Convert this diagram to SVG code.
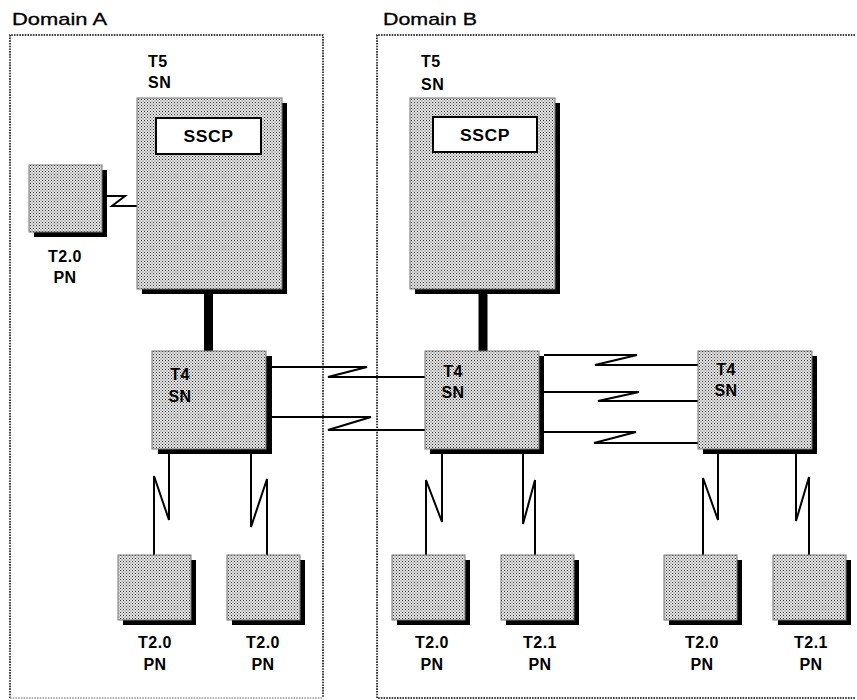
<svg xmlns="http://www.w3.org/2000/svg" width="857" height="700" viewBox="0 0 857 700">
<defs>
<pattern id="stip" width="3" height="3" patternUnits="userSpaceOnUse">
<rect width="3" height="3" fill="#e6e6e6"/>
<rect x="0" y="0" width="1" height="1" fill="#333"/>
<rect x="1.5" y="1.5" width="1" height="1" fill="#555"/>
</pattern>
<style>
.box{fill:url(#stip);stroke:#777;stroke-width:1}
.sh{fill:#000}
.sscp{fill:#fff;stroke:#000;stroke-width:2}
.ln{fill:none;stroke:#000;stroke-width:2}
.thick{fill:none;stroke:#000;stroke-width:9}
.dom{fill:none;stroke:#000;stroke-width:1.5;stroke-dasharray:1.6 1.1}
.t{font-family:"Liberation Sans",Arial,sans-serif;font-weight:bold;font-size:16px;fill:#000;letter-spacing:0.5px}
.c{text-anchor:middle}
.dl{font-family:"Liberation Sans",Arial,sans-serif;font-size:17px;fill:#000;stroke:#000;stroke-width:0.3}
</style>
</defs>
<rect width="857" height="700" fill="#fff"/>

<g id="domainA">
<path class="dom" d="M10,698 V35 H323 V698"/>
<path d="M10,698 H323" fill="none" stroke="#999" stroke-width="1.4" stroke-dasharray="1.6 1.1"/>
<text class="dl" x="12" y="25" textLength="95" lengthAdjust="spacingAndGlyphs">Domain A</text>
</g>
<g id="domainB">
<path class="dom" d="M855,35 H377 V698 H855"/>
<text class="dl" x="383" y="25" textLength="94" lengthAdjust="spacingAndGlyphs">Domain B</text>
</g>

<g id="connectors">
<path class="ln" d="M107,196 H125 L112,206 H137"/>
<line class="thick" x1="208.5" y1="294" x2="208.5" y2="351"/>
<line class="thick" x1="483" y1="294" x2="483" y2="351"/>
<path class="ln" d="M272,367 H367 L328,377 H425"/>
<path class="ln" d="M272,417 H371 L328,430 H425"/>
<path class="ln" d="M544,355 H637 L595,365 H698"/>
<path class="ln" d="M544,392 H639 L598,401 H698"/>
<path class="ln" d="M544,432 H636 L594,443 H698"/>
<path class="ln" d="M169,454 V520 L154,476 V555"/>
<path class="ln" d="M251,454 V527 L267,479 V555"/>
<path class="ln" d="M442,454 V522 L426,480 V555"/>
<path class="ln" d="M523,454 V524 L535,480 V555"/>
<path class="ln" d="M718,454 V520 L703,478 V555"/>
<path class="ln" d="M796,454 V521 L809,477 V555"/>
</g>

<g id="t5a">
<rect class="sh" x="142" y="103" width="145" height="191"/>
<rect class="box" x="137" y="98" width="145" height="191"/>
<rect class="sscp" x="156" y="118" width="105" height="36"/>
<text class="t c" x="208.5" y="142" textLength="50" lengthAdjust="spacingAndGlyphs">SSCP</text>
<text class="t" x="148" y="67">T5</text>
<text class="t" x="148" y="88">SN</text>
</g>
<g id="t5b">
<rect class="sh" x="415" y="103" width="145" height="191"/>
<rect class="box" x="410" y="98" width="145" height="191"/>
<rect class="sscp" x="433" y="117" width="104" height="35"/>
<text class="t c" x="485" y="141" textLength="50" lengthAdjust="spacingAndGlyphs">SSCP</text>
<text class="t" x="421" y="67">T5</text>
<text class="t" x="421" y="90">SN</text>
</g>

<g id="pnTop">
<rect class="sh" x="34" y="170" width="73" height="67"/>
<rect class="box" x="29" y="165" width="73" height="67"/>
<text class="t c" x="65" y="262">T2.0</text>
<text class="t c" x="65" y="283">PN</text>
</g>

<g id="t4a">
<rect class="sh" x="158" y="356" width="114" height="98"/>
<rect class="box" x="152" y="351" width="114" height="98"/>
<text class="t c" x="180" y="380">T4</text>
<text class="t c" x="180" y="402">SN</text>
</g>
<g id="t4b">
<rect class="sh" x="430" y="356" width="114" height="98"/>
<rect class="box" x="425" y="351" width="114" height="98"/>
<text class="t c" x="453" y="377">T4</text>
<text class="t c" x="453" y="398">SN</text>
</g>
<g id="t4c">
<rect class="sh" x="703" y="356" width="114" height="98"/>
<rect class="box" x="698" y="351" width="114" height="98"/>
<text class="t c" x="726" y="375">T4</text>
<text class="t c" x="726" y="396">SN</text>
</g>

<g id="pnA1">
<rect class="sh" x="123" y="560" width="73" height="65"/>
<rect class="box" x="118" y="555" width="73" height="65"/>
<text class="t c" x="155" y="648">T2.0</text>
<text class="t c" x="155" y="670">PN</text>
</g>
<g id="pnA2">
<rect class="sh" x="232" y="560" width="73" height="65"/>
<rect class="box" x="227" y="555" width="73" height="65"/>
<text class="t c" x="263" y="648">T2.0</text>
<text class="t c" x="263" y="670">PN</text>
</g>
<g id="pnB1">
<rect class="sh" x="397" y="560" width="73" height="65"/>
<rect class="box" x="392" y="555" width="73" height="65"/>
<text class="t c" x="432" y="648">T2.0</text>
<text class="t c" x="432" y="670">PN</text>
</g>
<g id="pnB2">
<rect class="sh" x="506" y="560" width="73" height="65"/>
<rect class="box" x="501" y="555" width="73" height="65"/>
<text class="t c" x="540" y="648">T2.1</text>
<text class="t c" x="540" y="670">PN</text>
</g>
<g id="pnC1">
<rect class="sh" x="669" y="560" width="73" height="65"/>
<rect class="box" x="664" y="555" width="73" height="65"/>
<text class="t c" x="702" y="648">T2.0</text>
<text class="t c" x="702" y="670">PN</text>
</g>
<g id="pnC2">
<rect class="sh" x="778" y="560" width="73" height="65"/>
<rect class="box" x="773" y="555" width="73" height="65"/>
<text class="t c" x="811" y="648">T2.1</text>
<text class="t c" x="811" y="670">PN</text>
</g>
</svg>
